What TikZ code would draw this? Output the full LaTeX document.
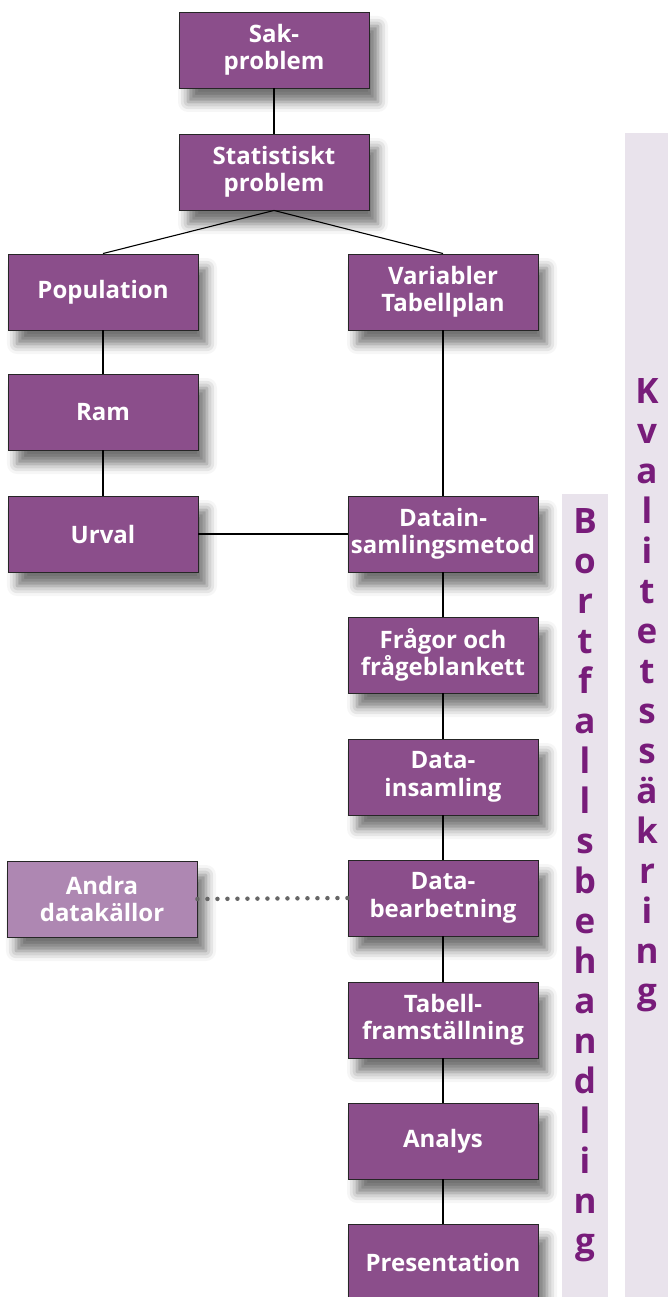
\documentclass[tikz,border=0pt]{standalone}
\usepackage{fontspec}
\setmainfont{Open Sans}
\usetikzlibrary{shadows.blur}
\definecolor{boxpurple}{RGB}{139,78,139}
\definecolor{boxlight}{RGB}{174,135,178}
\definecolor{stripfill}{RGB}{233,227,236}
\definecolor{lettercol}{RGB}{120,28,122}
\tikzset{
  box/.style={draw=black!85, line width=0.9pt, fill=boxpurple, text=white,
    minimum width=190pt, minimum height=76pt, inner sep=0pt, align=center,
    font=\fontsize{24}{27.5}\selectfont\bfseries,
    blur shadow={shadow xshift=9pt, shadow yshift=-14pt, shadow blur radius=10pt, shadow opacity=55}},
  lightbox/.style={box, fill=boxlight},
  conn/.style={draw=black, line width=1.1pt},
  dotconn/.style={draw=black!60, line width=4.5pt, line cap=round, dash pattern=on 0pt off 10pt},
  strip/.style={fill=stripfill, draw=none},
  stripletter/.style={text=lettercol, anchor=base, inner sep=0pt, font=\fontsize{35}{40}\selectfont\bfseries}
}
\begin{document}
\begin{tikzpicture}[x=1pt,y=-1pt]
\useasboundingbox (0,0) rectangle (668,1297);
% strips
\fill[strip] (625,133) rectangle (668,1297);
\fill[strip] (562,494) rectangle (608,1297);
\foreach \l [count=\i from 0] in {K,v,a,l,i,t,e,t,s,s,ä,k,r,i,n,g}
  \node[stripletter] (k\i) at (647,{403+40*\i}) {\l};
\foreach \l [count=\i from 0] in {B,o,r,t,f,a,l,l,s,b,e,h,a,n,d,l,i,n,g}
  \node[stripletter] (b\i) at (585,{533+40*\i}) {\l};
% boxes
\node[box] (sak) at (274,50) {Sak-\\problem};
\node[box] (stat) at (274,172) {Statistiskt\\problem};
\node[box] (pop) at (103,292) {Population};
\node[box] (var) at (443,292) {Variabler\\Tabellplan};
\node[box] (ram) at (103,412) {Ram};
\node[box] (urval) at (103,534) {Urval};
\node[box] (dmet) at (443,534) {Datain-\\samlingsmetod};
\node[box] (frag) at (443,655) {Frågor och\\frågeblankett};
\node[box] (dins) at (443,777) {Data-\\insamling};
\node[box] (dbe) at (443,898) {Data-\\bearbetning};
\node[lightbox] (andra) at (102,899) {Andra\\datakällor};
\node[box] (tab) at (443,1020) {Tabell-\\framställning};
\node[box] (ana) at (443,1141) {Analys};
\node[box] (pres) at (443,1262) {Presentation};
% connectors
\draw[conn] (sak) -- (stat);
\draw[conn] (stat.south) -- (pop.north);
\draw[conn] (stat.south) -- (var.north);
\draw[conn] (pop) -- (ram);
\draw[conn] (ram) -- (urval);
\draw[conn] (var) -- (dmet);
\draw[conn] (urval) -- (dmet);
\draw[conn] (dmet) -- (frag);
\draw[conn] (frag) -- (dins);
\draw[conn] (dins) -- (dbe);
\draw[conn] (dbe) -- (tab);
\draw[conn] (tab) -- (ana);
\draw[conn] (ana) -- (pres);
\draw[dotconn] (andra.east) -- (dbe.west);
\end{tikzpicture}
\end{document}
